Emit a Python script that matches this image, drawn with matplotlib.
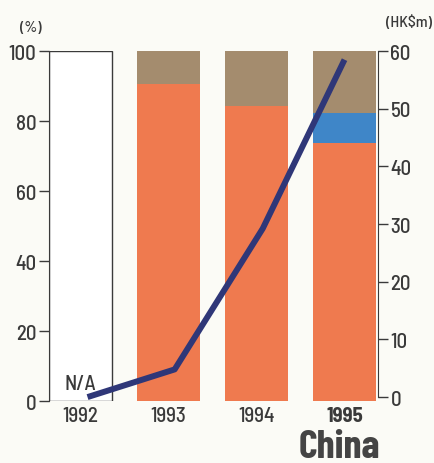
import matplotlib
matplotlib.use("Agg")
import matplotlib.pyplot as plt
from matplotlib import font_manager

years = ["1992", "1993", "1994", "1995"]
# Share of total (%) by segment; 1992 has no data
orange_pct = [0, 90.6, 84.4, 73.6]
blue_pct = [0, 0, 0, 8.8]
brown_pct = [0, 9.4, 15.6, 17.6]
# Value line, HK$m
value_hkm = [0, 4.8, 29.2, 58.5]

names = {f.name for f in font_manager.fontManager.ttflist}
body = [n for n in ("Barlow Semi Condensed", "Liberation Sans Narrow") if n in names] + ["DejaVu Sans"]
title = [n for n in ("Barlow Condensed", "Liberation Sans Narrow") if n in names] + ["DejaVu Sans"]
plt.rcParams["font.family"] = body
plt.rcParams["font.weight"] = 500

bg = "#fbfbf6"
ink = "#3a3a3a"
c_orange = "#ef7a4f"
c_blue = "#3f86c8"
c_brown = "#a48c6e"
c_line = "#2f3778"

fig = plt.figure(figsize=(4.35, 4.64), dpi=100, facecolor=bg)
ax = fig.add_axes([0.1126, 0.1336, 0.7563, 0.7543], facecolor=bg)

x = list(range(len(years)))
w = 0.716

# 1992: empty outlined box
ax.bar(x[0], 100, width=w, facecolor="white", edgecolor=ink, linewidth=1.0, zorder=2)
ax.text(x[0], 2.4, "N/A", ha="center", va="bottom", fontsize=15, color=ink, zorder=3)

xs = x[1:]
o = orange_pct[1:]
b = blue_pct[1:]
br = brown_pct[1:]
ax.bar(xs, o, width=w, color=c_orange, zorder=2)
ax.bar(xs, b, width=w, bottom=o, color=c_blue, zorder=2)
ax.bar(xs, br, width=w, bottom=[p + q for p, q in zip(o, b)], color=c_brown, zorder=2)

ax.set_xlim(-0.358, 3.38)
ax.set_ylim(0, 100)
ax.set_yticks([0, 20, 40, 60, 80, 100])
ax.set_xticks([])
for s in ["top", "right", "bottom"]:
    ax.spines[s].set_visible(False)
ax.spines["left"].set_color(ink)
ax.tick_params(axis="y", direction="out", length=7, width=1, color=ink,
               labelsize=15, labelcolor=ink, pad=2)

for i, yr in enumerate(years):
    ax.text(i, -1.4, yr, ha="center", va="top", fontsize=15, color=ink,
            fontweight="bold" if yr == "1995" else 500)

ax2 = ax.twinx()
ax2.set_ylim(-0.68, 59.15)
ax2.set_yticks([0, 10, 20, 30, 40, 50, 60])
for s in ["top", "left", "bottom"]:
    ax2.spines[s].set_visible(False)
ax2.spines["right"].set_color(ink)
ax2.spines["right"].set_bounds(0, 60)
ax2.tick_params(axis="y", direction="out", length=7, width=1, color=ink,
                labelsize=15, labelcolor=ink, pad=2)
ax2.plot([0.08, 1.07, 2.07, 3.0], value_hkm, color=c_line, linewidth=4.3,
         solid_capstyle="butt", zorder=4, clip_on=False)

fig.text(0.045, 0.94, "(%)", fontsize=11.5, color=ink, ha="left", va="center")
fig.text(0.94, 0.952, "(HK$m)", fontsize=11.5, color=ink, ha="center", va="center")
fig.text(0.779, 0.013, "China", fontsize=29, fontweight="bold", color="#444444",
         ha="center", va="baseline", family=title)

fig.savefig("out.png", dpi=100, facecolor=bg)
